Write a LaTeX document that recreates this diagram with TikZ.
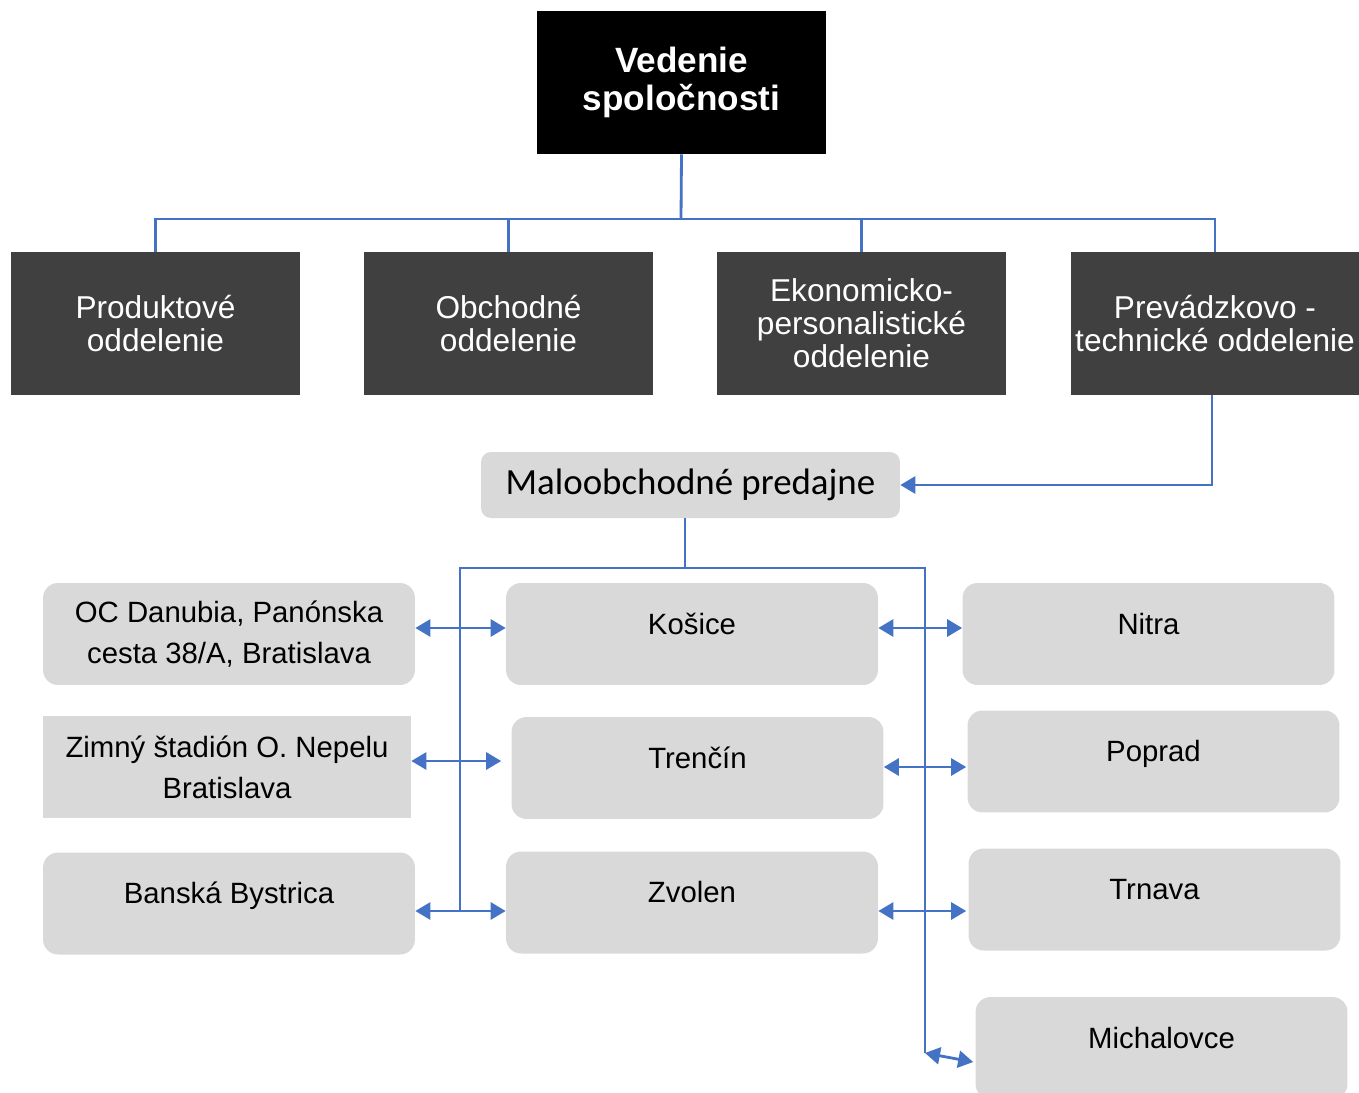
\documentclass[tikz,border=0pt]{standalone}
\usepackage{fontspec}
\setmainfont{Liberation Sans}
\newfontfamily\calibri{Carlito}
\usetikzlibrary{arrows.meta}
\definecolor{conblue}{HTML}{4472C4}
\definecolor{darkbox}{HTML}{404040}
\definecolor{lightbox}{HTML}{D9D9D9}

\begin{document}
\begin{tikzpicture}[x=0.02cm,y=-0.02cm,
    topbox/.style={fill=black,text=white,minimum width=5.78cm,minimum height=2.86cm,align=center,inner sep=0pt,
        font=\bfseries\fontsize{20}{21.6}\selectfont},
    dept/.style={fill=darkbox,text=white,minimum width=5.78cm,minimum height=2.86cm,align=center,inner sep=0pt,
        font=\fontsize{18}{18.8}\selectfont},
    shop/.style={fill=lightbox,rounded corners=0.3cm,minimum width=7.44cm,minimum height=2.04cm,align=center,inner sep=0pt,
        font=\fontsize{16.7}{23.3}\selectfont},
    oneline/.style={text height=0.3cm,text depth=0.3cm},
    conn/.style={conblue,line width=1.6pt},
    dbl/.style={conn,{Triangle[length=0.3cm,width=0.34cm]}-{Triangle[length=0.3cm,width=0.34cm]}}]
                \useasboundingbox (0,0) rectangle (1359,1092);
                \node[topbox] (ved) at (681.5,82.5) {Vedenie\\spoločnosti};
                \node[dept] (prod) at (155.5,323.5) {Produktové\\oddelenie};
                \node[dept] (obch) at (508.5,323.5) {Obchodné\\oddelenie};
                \node[dept] (eko) at (861.5,323.5) {Ekonomicko-\\personalistické\\oddelenie};
                \node[dept] (prev) at (1215,323.5) {Prevádzkovo -\\technické oddelenie};
                \coordinate (bus) at (681,219);
                \draw[conn] (ved.south) -- (bus);
                \draw[conn] (prod.north) -- (prod.north |- bus) -- (prev.north |- bus) -- (prev.north);
                \foreach \n in {obch,eko}
                    \draw[conn] (\n.north) -- (\n.north |- bus);
                \node[shop,rounded corners=0.2cm,minimum width=8.38cm,minimum height=1.32cm,font=\calibri\fontsize{21}{24}\selectfont] (malo) at (690.5,485) {Maloobchodné predajne};
                \draw[conn,-{Triangle[length=0.3cm,width=0.34cm]}] ([xshift=-0.06cm]prev.south) |- (malo.east);
                \node[shop] (oc) at (229,634) {OC Danubia, Panónska\\cesta 38/A, Bratislava};
                \node[shop,rounded corners=0pt,minimum width=7.36cm] (zim) at (227,767) {Zimný štadión O. Nepelu\\Bratislava};
                \node[shop,oneline] (bb) at (229,903.5) {Banská Bystrica};
                \node[shop,oneline] (kos) at (692,634) {Košice};
                \node[shop,oneline] (tren) at (697.5,768) {Trenčín};
                \node[shop,oneline] (zvo) at (692,902.5) {Zvolen};
                \node[shop,oneline] (nit) at (1148.5,634) {Nitra};
                \node[shop,oneline] (pop) at (1153.5,761.5) {Poprad};
                \node[shop,oneline] (trn) at (1154.5,899.5) {Trnava};
                \node[shop,oneline] (mich) at (1161.5,1048) {Michalovce};
                \coordinate (lt) at (460,568);
                \coordinate (rt) at (925,568);
                \coordinate (lb) at (460,911);
                \coordinate (rb) at (925,1053);
                \draw[conn] (malo.south -| 685,0) -- (685,568);
                \draw[conn] (lb) -- (lt) -- (rt) -- (rb);
                \draw[dbl] ([yshift=0.12cm]oc.east) -- ([yshift=0.12cm]oc.east -| kos.west);
                \draw[dbl] ([yshift=0.12cm]zim.east) -- ([yshift=0.12cm,xshift=-0.2cm]zim.east -| tren.west);
                \draw[dbl] ([yshift=-0.15cm]bb.east) -- ([yshift=-0.15cm]bb.east -| zvo.west);
                \draw[dbl] ([yshift=0.12cm]kos.east) -- ([yshift=0.12cm]kos.east -| nit.west);
                \draw[dbl] ([yshift=0.02cm]tren.east) -- ([yshift=0.02cm,xshift=-0.02cm]tren.east -| pop.west);
                \draw[dbl] ([yshift=-0.17cm]zvo.east) -- ([yshift=-0.17cm,xshift=-0.04cm]zvo.east -| trn.west);
                \draw[dbl] (rb) -- ([yshift=-0.28cm,xshift=-0.04cm]mich.west);
            \end{tikzpicture}
\end{document}
